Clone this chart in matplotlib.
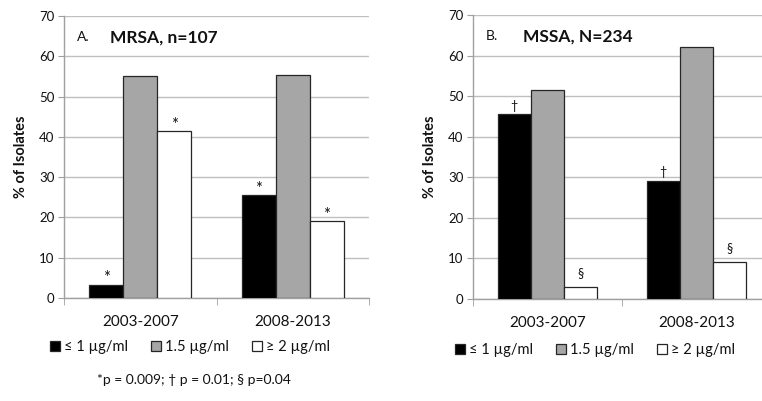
import matplotlib
matplotlib.use("Agg")
import matplotlib.pyplot as plt
from matplotlib.patches import Patch
import numpy as np

plt.rcParams['font.family'] = ['Lato', 'DejaVu Sans']

periods = ["2003-2007", "2008-2013"]
series_labels = ["≤ 1 µg/ml", "1.5 µg/ml", "≥ 2 µg/ml"]

mrsa_le1 = [3.3, 25.5]
mrsa_15 = [55.0, 55.3]
mrsa_ge2 = [41.5, 19.1]

mssa_le1 = [45.5, 29.0]
mssa_15 = [51.5, 62.0]
mssa_ge2 = [2.9, 9.0]

mrsa_marks = ["*", "", "*"]
mssa_marks = ["†", "", "§"]

yticks = [0, 10, 20, 30, 40, 50, 60, 70]
footnote = "*p = 0.009; † p = 0.01; § p=0.04"

colors = ["#000000", "#a6a6a6", "#ffffff"]
edge = "#262626"
grid_c = "#bfbfbf"
spine_c = "#a0a0a0"
txt_c = "#111111"

mark_style = {"*": (12, 0.3), "†": (9, 1.2), "§": (9, 2.6)}

fig = plt.figure(figsize=(7.62, 4.01), dpi=100)

def panel(rect, data, marks, prefix, title, title_x, legend_xy):
    ax = fig.add_axes(rect)
    x = np.arange(len(periods))
    w = 0.223
    handles = []
    for i, (vals, col, mk) in enumerate(zip(data, colors, marks)):
        bars = ax.bar(x + (i - 1) * w, vals, width=w, color=col, edgecolor=edge,
                      linewidth=0.9, zorder=3, label=series_labels[i])
        if mk:
            fs, off = mark_style[mk]
            for b, v in zip(bars, vals):
                ax.text(b.get_x() + b.get_width() / 2, v + off, mk,
                        ha="center", va="baseline", fontsize=fs, color=txt_c)
        handles.append(Patch(facecolor=col, edgecolor=edge, linewidth=0.9))
    ax.set_xlim(-0.5, 1.5)
    ax.set_ylim(0, 70)
    ax.set_yticks(yticks)
    ax.yaxis.grid(True, color=grid_c, linewidth=1.0, zorder=0)
    ax.set_axisbelow(True)
    for s in ["top", "right"]:
        ax.spines[s].set_visible(False)
    for s in ["left", "bottom"]:
        ax.spines[s].set_color(spine_c)
        ax.spines[s].set_linewidth(1.0)
    ax.tick_params(axis="y", length=4, color=spine_c, labelsize=9.5, pad=3,
                   labelcolor=txt_c)
    ax.set_xticks(x)
    ax.set_xticklabels(periods, fontsize=11, color=txt_c)
    ax.tick_params(axis="x", which="major", length=0, pad=12)
    ax.set_xticks([-0.5, 0.5, 1.5], minor=True)
    ax.tick_params(axis="x", which="minor", length=5, color=spine_c)
    ax.set_ylabel("% of Isolates", fontsize=10.5, fontweight="bold",
                  color=txt_c, labelpad=8)
    ax.text(0.042, 0.925, prefix, transform=ax.transAxes, fontsize=10,
            va="center", ha="left", color=txt_c)
    ax.text(title_x, 0.925, title, transform=ax.transAxes,
            fontsize=12.5, fontweight="bold", va="center", ha="left",
            color=txt_c)
    fig.legend(handles, series_labels, loc="center", bbox_to_anchor=legend_xy,
               ncol=3, frameon=False, fontsize=10.5, handlelength=0.7,
               handleheight=0.7, handletextpad=0.25, columnspacing=1.6,
               borderaxespad=0, labelcolor=txt_c)
    return ax

panel([64 / 762, 1 - 298 / 401, 305 / 762, 282 / 401],
      [mrsa_le1, mrsa_15, mrsa_ge2], mrsa_marks, "A.", "MRSA, n=107", 0.151,
      (190 / 762, 1 - 347 / 401))
panel([473 / 762, 1 - 299 / 401, 298 / 762, 284 / 401],
      [mssa_le1, mssa_15, mssa_ge2], mssa_marks, "B.", "MSSA, N=234", 0.168,
      (595 / 762, 1 - 350 / 401))

fig.text(194 / 762, 1 - 380 / 401, footnote, ha="center", va="center",
         fontsize=10, color=txt_c)

fig.savefig("out.png", dpi=100)
